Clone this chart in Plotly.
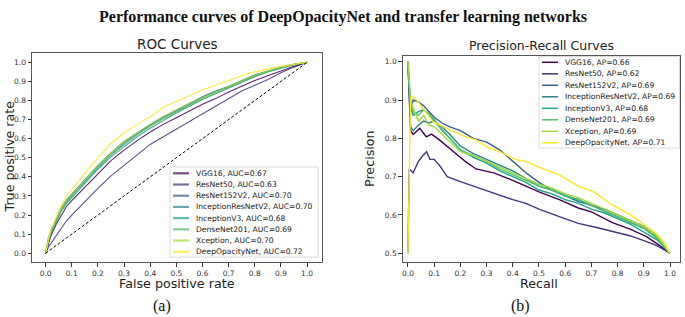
import plotly.graph_objects as go

# ---------------- data ----------------
models = ["VGG16", "ResNet50", "ResNet152V2", "InceptionResNetV2",
          "InceptionV3", "DenseNet201", "Xception", "DeepOpacityNet"]
colors = ["#440154", "#46327e", "#365c8d", "#277f8e",
          "#1fa187", "#4ac16d", "#a0da39", "#fde725"]
auc = [0.67, 0.63, 0.70, 0.70, 0.68, 0.69, 0.70, 0.72]
ap = [0.66, 0.62, 0.69, 0.69, 0.68, 0.69, 0.69, 0.71]

roc_fpr = [0, 0.01, 0.02, 0.04, 0.06, 0.08, 0.1, 0.125, 0.15, 0.2, 0.25, 0.3, 0.35,
           0.4, 0.45, 0.5, 0.55, 0.6, 0.65, 0.7, 0.75, 0.8, 0.85, 0.9, 0.95, 1.0]
roc_tpr_vgg16 = [0, 0.05, 0.09, 0.15, 0.20, 0.245, 0.275, 0.31, 0.35, 0.42, 0.485, 0.54, 0.59,
                 0.635, 0.675, 0.71, 0.745, 0.78, 0.81, 0.845, 0.875, 0.905, 0.93, 0.955, 0.98, 1.0]
roc_tpr_resnet50 = [0, 0.03, 0.05, 0.09, 0.13, 0.17, 0.20, 0.236, 0.27, 0.34, 0.405, 0.46, 0.52,
                    0.57, 0.61, 0.65, 0.69, 0.73, 0.77, 0.81, 0.85, 0.88, 0.91, 0.945, 0.975, 1.0]
roc_tpr_resnet152 = [0, 0.07, 0.115, 0.18, 0.235, 0.28, 0.31, 0.35, 0.385, 0.46, 0.525, 0.585, 0.63,
                     0.675, 0.715, 0.75, 0.785, 0.82, 0.85, 0.875, 0.905, 0.935, 0.955, 0.975, 0.99, 1.0]
roc_tpr_incresnet = [0, 0.06, 0.11, 0.175, 0.23, 0.27, 0.30, 0.34, 0.375, 0.45, 0.515, 0.575, 0.625,
                     0.67, 0.71, 0.745, 0.78, 0.815, 0.845, 0.87, 0.9, 0.93, 0.952, 0.972, 0.99, 1.0]
roc_tpr_inception = [0, 0.06, 0.10, 0.165, 0.22, 0.26, 0.29, 0.33, 0.365, 0.44, 0.505, 0.56, 0.61,
                     0.655, 0.695, 0.735, 0.77, 0.805, 0.835, 0.865, 0.895, 0.925, 0.95, 0.97, 0.988, 1.0]
roc_tpr_densenet = [0, 0.07, 0.11, 0.17, 0.225, 0.265, 0.30, 0.34, 0.375, 0.45, 0.515, 0.57, 0.62,
                    0.665, 0.705, 0.74, 0.775, 0.81, 0.84, 0.87, 0.9, 0.93, 0.952, 0.972, 0.99, 1.0]
roc_tpr_xception = [0, 0.08, 0.12, 0.18, 0.235, 0.275, 0.305, 0.345, 0.385, 0.46, 0.525, 0.585, 0.63,
                    0.675, 0.715, 0.75, 0.785, 0.815, 0.845, 0.875, 0.905, 0.932, 0.955, 0.975, 0.99, 1.0]
roc_tpr_deepopacity = [0, 0.07, 0.12, 0.19, 0.25, 0.30, 0.335, 0.375, 0.42, 0.50, 0.575, 0.63, 0.675,
                       0.715, 0.765, 0.795, 0.825, 0.855, 0.88, 0.905, 0.93, 0.95, 0.965, 0.98, 0.99, 1.0]

pr_rec_vgg16 = [0, 0.01, 0.02, 0.045, 0.07, 0.09, 0.12, 0.16, 0.19, 0.22, 0.26, 0.33, 0.4, 0.45,
                0.5, 0.58, 0.65, 0.7, 0.78, 0.85, 0.91, 0.95, 1.0]
pr_prec_vgg16 = [1.0, 0.82, 0.81, 0.826, 0.804, 0.811, 0.796, 0.774, 0.756, 0.739, 0.72, 0.709, 0.69, 0.674,
                 0.66, 0.639, 0.618, 0.608, 0.58, 0.562, 0.543, 0.525, 0.5]
pr_rec_resnet50 = [0, 0.005, 0.02, 0.04, 0.058, 0.071, 0.084, 0.1, 0.12, 0.15, 0.2, 0.25, 0.33, 0.4,
                   0.45, 0.5, 0.58, 0.65, 0.72, 0.78, 0.85, 0.91, 0.95, 1.0]
pr_prec_resnet50 = [0.5, 0.72, 0.71, 0.74, 0.756, 0.765, 0.745, 0.745, 0.73, 0.70, 0.687, 0.675, 0.656, 0.64,
                    0.63, 0.615, 0.595, 0.578, 0.567, 0.556, 0.545, 0.53, 0.52, 0.5]
pr_rec_common = [0, 0.01, 0.02, 0.04, 0.06, 0.08, 0.1, 0.13, 0.16, 0.2, 0.25, 0.3, 0.35, 0.4, 0.45,
                 0.5, 0.55, 0.6, 0.65, 0.7, 0.75, 0.8, 0.85, 0.9, 0.95, 1.0]
pr_prec_resnet152 = [1.0, 0.87, 0.90, 0.895, 0.885, 0.87, 0.855, 0.84, 0.83, 0.82, 0.80, 0.79, 0.77, 0.74, 0.71,
                     0.685, 0.665, 0.65, 0.64, 0.625, 0.615, 0.60, 0.585, 0.57, 0.545, 0.5]
pr_prec_incresnet = [1.0, 0.83, 0.82, 0.835, 0.845, 0.84, 0.845, 0.83, 0.81, 0.78, 0.76, 0.745, 0.73, 0.715, 0.695,
                     0.675, 0.665, 0.65, 0.635, 0.625, 0.61, 0.595, 0.58, 0.565, 0.54, 0.5]
pr_prec_inception = [1.0, 0.88, 0.86, 0.87, 0.875, 0.86, 0.845, 0.82, 0.80, 0.77, 0.75, 0.735, 0.715, 0.70, 0.685,
                     0.665, 0.655, 0.64, 0.63, 0.615, 0.605, 0.59, 0.575, 0.555, 0.535, 0.5]
pr_prec_densenet = [1.0, 0.89, 0.87, 0.86, 0.875, 0.865, 0.85, 0.82, 0.80, 0.77, 0.755, 0.74, 0.72, 0.705, 0.69,
                    0.675, 0.665, 0.65, 0.64, 0.625, 0.61, 0.595, 0.58, 0.565, 0.54, 0.5]
pr_prec_xception = [1.0, 0.90, 0.88, 0.845, 0.86, 0.835, 0.83, 0.81, 0.79, 0.765, 0.755, 0.74, 0.725, 0.71, 0.695,
                    0.68, 0.67, 0.655, 0.645, 0.63, 0.615, 0.60, 0.585, 0.57, 0.545, 0.5]
pr_rec_deepopacity = [0, 0.01, 0.014, 0.027, 0.058, 0.097, 0.16, 0.22, 0.26, 0.3, 0.35, 0.41, 0.45, 0.5,
                      0.58, 0.65, 0.71, 0.78, 0.85, 0.91, 0.95, 0.975, 1.0]
pr_prec_deepopacity = [0.5, 0.90, 0.909, 0.905, 0.878, 0.843, 0.822, 0.804, 0.796, 0.778, 0.765, 0.745, 0.74, 0.725,
                       0.704, 0.675, 0.66, 0.626, 0.60, 0.569, 0.55, 0.53, 0.5]

roc_tpr = [roc_tpr_vgg16, roc_tpr_resnet50, roc_tpr_resnet152, roc_tpr_incresnet,
           roc_tpr_inception, roc_tpr_densenet, roc_tpr_xception, roc_tpr_deepopacity]
pr_rec = [pr_rec_vgg16, pr_rec_resnet50, pr_rec_common, pr_rec_common,
          pr_rec_common, pr_rec_common, pr_rec_common, pr_rec_deepopacity]
pr_prec = [pr_prec_vgg16, pr_prec_resnet50, pr_prec_resnet152, pr_prec_incresnet,
           pr_prec_inception, pr_prec_densenet, pr_prec_xception, pr_prec_deepopacity]

ticks01 = [0.0, 0.1, 0.2, 0.3, 0.4, 0.5, 0.6, 0.7, 0.8, 0.9, 1.0]
ticks_prec = [0.5, 0.6, 0.7, 0.8, 0.9, 1.0]

# ---------------- layout helpers ----------------
W, H = 685, 317
def px(x):
    return x / W
def py(y):
    return 1 - y / H

fig = go.Figure()

for i, m in enumerate(models):
    fig.add_trace(go.Scatter(x=roc_fpr, y=roc_tpr[i], mode="lines", name=m,
                             line=dict(color=colors[i], width=1.1), opacity=0.85,
                             xaxis="x", yaxis="y", showlegend=False))
fig.add_trace(go.Scatter(x=[0, 1], y=[0, 1], mode="lines",
                         line=dict(color="black", width=1, dash="3px,2px"),
                         xaxis="x", yaxis="y", showlegend=False))
for i, m in enumerate(models):
    fig.add_trace(go.Scatter(x=pr_rec[i], y=pr_prec[i], mode="lines", name=m,
                             line=dict(color=colors[i], width=1.4),
                             xaxis="x2", yaxis="y2", showlegend=False))

axis_common = dict(showgrid=False, zeroline=False, showline=True, mirror=True,
                   linecolor="#555", linewidth=1, ticks="outside", ticklen=3.5,
                   tickwidth=0.8, tickcolor="#333", tickformat=".1f",
                   tickfont=dict(family="DejaVu Sans", size=7.5, color="#333"))

fig.update_layout(
    width=W, height=H, autosize=False,
    margin=dict(l=0, r=0, t=0, b=0),
    paper_bgcolor="white", plot_bgcolor="white",
    showlegend=False,
    xaxis=dict(domain=[px(32), px(322)], range=[-0.052, 1.057], tickvals=ticks01,
               anchor="y", **axis_common),
    yaxis=dict(domain=[py(262), py(53)], range=[-0.046, 1.049], tickvals=ticks01,
               anchor="x", **axis_common),
    xaxis2=dict(domain=[px(402.7), px(680)], range=[-0.02, 1.038], tickvals=ticks01,
                anchor="y2", **axis_common),
    yaxis2=dict(domain=[py(262), py(56)], range=[0.477, 1.015], tickvals=ticks_prec,
                anchor="x2", **axis_common),
)

shapes = []
annotations = []

def text(x, y, s, size, family="DejaVu Sans", color="#222", bold=False, angle=0,
         xanchor="center", yanchor="middle"):
    if bold:
        s = "<b>" + s + "</b>"
    annotations.append(dict(x=px(x), y=py(y), xref="paper", yref="paper", text=s,
                            showarrow=False, xanchor=xanchor, yanchor=yanchor,
                            textangle=angle, borderpad=0,
                            font=dict(family=family, size=size, color=color)))

text(343, 17, "Performance curves of DeepOpacityNet and transfer learning networks",
     16, family="Liberation Serif", color="#111", bold=True)
text(177, 44, "ROC Curves", 13.5, color="#222")
text(541, 45, "Precision-Recall Curves", 12.5, color="#222")
text(177, 283, "False positive rate", 12.7, color="#222")
text(539, 283, "Recall", 12.7, color="#222")
text(8.5, 157, "True positive rate", 12.7, color="#222", angle=-90)
text(369, 159, "Precision", 12.7, color="#222", angle=-90)
text(162, 306, "(a)", 16, family="Liberation Serif", color="#111")
text(520, 306, "(b)", 16, family="Liberation Serif", color="#111")

# ROC legend (manual, compact)
shapes.append(dict(type="rect", xref="paper", yref="paper", x0=px(170), x1=px(318),
                   y0=py(257), y1=py(167), fillcolor="rgba(255,255,255,0.85)",
                   line=dict(color="#d0d0d0", width=0.8), layer="above"))
for i, m in enumerate(models):
    yy = 173.3 + i * 11.2
    shapes.append(dict(type="line", xref="paper", yref="paper", x0=px(173), x1=px(189),
                       y0=py(yy), y1=py(yy), line=dict(color=colors[i], width=2.2),
                       opacity=0.7, layer="above"))
    text(195, yy, f"{m}, AUC={auc[i]:.2f}", 7.6, color="#222", xanchor="left")

# PR legend
shapes.append(dict(type="rect", xref="paper", yref="paper", x0=px(539), x1=px(679.5),
                   y0=py(148), y1=py(56.5), fillcolor="rgba(255,255,255,0.85)",
                   line=dict(color="#d0d0d0", width=0.8), layer="above"))
for i, m in enumerate(models):
    yy = 62.3 + i * 11.5
    shapes.append(dict(type="line", xref="paper", yref="paper", x0=px(542), x1=px(558),
                       y0=py(yy), y1=py(yy), line=dict(color=colors[i], width=1.5),
                       layer="above"))
    text(564, yy, f"{m}, AP={ap[i]:.2f}", 7.6, color="#222", xanchor="left")

fig.update_layout(shapes=shapes, annotations=annotations)
fig.write_html("out.html", config={"displayModeBar": False},
               post_script="document.body.style.margin='0';")
